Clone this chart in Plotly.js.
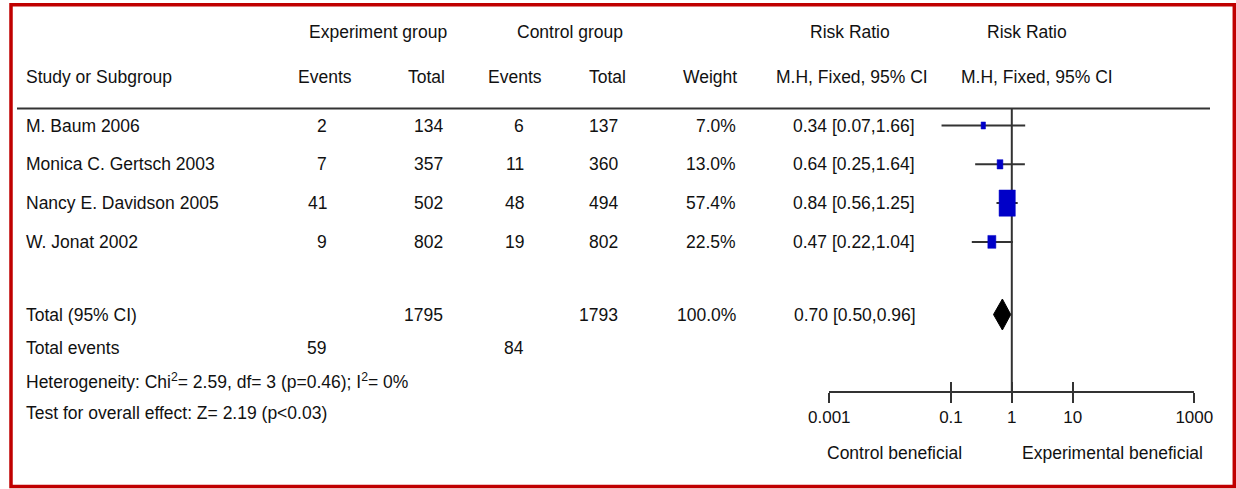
<!DOCTYPE html>
<html>
<head>
<meta charset="utf-8">
<script src="https://cdn.plot.ly/plotly-3.0.1.min.js"></script>
<style>html,body{margin:0;padding:0;background:#fff;}#chart{width:1236px;height:489px;}</style>
</head>
<body>
<div id="chart"></div>
<script>
// ---------- data ----------
const studies = ["M. Baum 2006", "Monica C. Gertsch 2003", "Nancy E. Davidson 2005", "W. Jonat 2002"];
const expEvents = [2, 7, 41, 9];
const expTotal = [134, 357, 502, 802];
const ctrlEvents = [6, 11, 48, 19];
const ctrlTotal = [137, 360, 494, 802];
const weights = [7.0, 13.0, 57.4, 22.5];
const rr = [0.34, 0.64, 0.84, 0.47];
const ciLow = [0.07, 0.25, 0.56, 0.22];
const ciHigh = [1.66, 1.64, 1.25, 1.04];

const totalLabel = "Total (95% CI)";
const totalExpN = 1795;
const totalCtrlN = 1793;
const totalWeight = 100.0;
const totalRR = 0.70;
const totalLow = 0.50;
const totalHigh = 0.96;
const totalEventsLabel = "Total events";
const totalExpEvents = 59;
const totalCtrlEvents = 84;
const heterogeneityText = "Heterogeneity: Chi<sup>2</sup>= 2.59, df= 3 (p=0.46); I<sup>2</sup>= 0%";
const overallEffectText = "Test for overall effect: Z= 2.19 (p<0.03)";

const tickVals = [0.001, 0.1, 1, 10, 1000];
const tickText = ["0.001", "0.1", "1", "10", "1000"];
const favoursLeft = "Control beneficial";
const favoursRight = "Experimental beneficial";

// ---------- layout helpers ----------
const W = 1236, H = 489;
const FONT = "Liberation Sans, Arial, Helvetica, sans-serif";
const FS = 17.5;
const TXT = "#111111";
const rowY0 = 125.5, rowStep = 38.8;
const rowY = studies.map((s, i) => rowY0 + i * rowStep);
const totalY = 314.5, eventsY = 347.5, hetY = 380.5, testY = 413;
const head1Y = 31.7, head2Y = 76.7;
const axisY = 392, topLineY = 108.5;
const axisLeftPx = 829.3, axisRightPx = 1194.3, logRange = [-3, 3];
const pxPerDecade = (axisRightPx - axisLeftPx) / (logRange[1] - logRange[0]);

const px = v => v / W;
const fmt1 = v => v.toFixed(1) + "%";
const fmt2 = v => v.toFixed(2);
const ciText = (m, l, h) => fmt2(m) + " [" + fmt2(l) + "," + fmt2(h) + "]";

const annotations = [];
function txt(text, x, y, anchor) {
  annotations.push({
    text: String(text), xref: "paper", yref: "y", x: px(x), y: y,
    xanchor: anchor || "left", yanchor: "middle", showarrow: false,
    font: {family: FONT, size: FS, color: TXT}, borderpad: 0
  });
}

// headers
txt("Experiment group", 377.5, head1Y, "center");
txt("Control group", 570, head1Y, "center");
txt("Risk Ratio", 850, head1Y, "center");
txt("Risk Ratio", 1027, head1Y, "center");
txt("Study or Subgroup", 25, head2Y, "left");
txt("Events", 325, head2Y, "center");
txt("Total", 446, head2Y, "right");
txt("Events", 515, head2Y, "center");
txt("Total", 627, head2Y, "right");
txt("Weight", 738, head2Y, "right");
txt("M.H, Fixed, 95% CI", 852, head2Y, "center");
txt("M.H, Fixed, 95% CI", 1036.5, head2Y, "center");

// study rows
studies.forEach((s, i) => {
  const y = rowY[i];
  txt(s, 25, y, "left");
  txt(expEvents[i], 328, y, "right");
  txt(expTotal[i], 444, y, "right");
  txt(ctrlEvents[i], 525, y, "right");
  txt(ctrlTotal[i], 619, y, "right");
  txt(fmt1(weights[i]), 737, y, "right");
  txt(ciText(rr[i], ciLow[i], ciHigh[i]), 853.5, y, "center");
});

// totals
txt(totalLabel, 25, totalY, "left");
txt(totalExpN, 444, totalY, "right");
txt(totalCtrlN, 619, totalY, "right");
txt(fmt1(totalWeight), 737, totalY, "right");
txt(ciText(totalRR, totalLow, totalHigh), 855, totalY, "center");
txt(totalEventsLabel, 25, eventsY, "left");
txt(totalExpEvents, 327, eventsY, "right");
txt(totalCtrlEvents, 525, eventsY, "right");
txt(heterogeneityText, 25, hetY, "left");
txt(overallEffectText, 25, testY, "left");
txt(favoursLeft, 894, 453, "center");
txt(favoursRight, 1112, 453, "center");

// ---------- traces ----------
const ciX = [], ciY = [];
rr.forEach((v, i) => { ciX.push(ciLow[i], ciHigh[i], null); ciY.push(rowY[i], rowY[i], null); });

const dH = 15.5;
const traces = [
  {x: ciX, y: ciY, type: "scatter", mode: "lines", line: {color: "#333333", width: 2},
   hoverinfo: "skip", showlegend: false, xaxis: "x", yaxis: "y"},
  {x: [totalLow, totalRR, totalHigh, totalRR, totalLow],
   y: [totalY, totalY - dH, totalY, totalY + dH, totalY],
   type: "scatter", mode: "lines", fill: "toself", fillcolor: "#000000",
   line: {color: "#000000", width: 1}, hoverinfo: "skip", showlegend: false, xaxis: "x", yaxis: "y"},
  {x: [1], y: [axisY], type: "scatter", mode: "markers", marker: {opacity: 0},
   hoverinfo: "skip", showlegend: false, xaxis: "x2", yaxis: "y"}
];

// weighted boxes: drawn as filled polygons around each point estimate
weights.forEach((w, i) => {
  const h = 4.4 + 0.38 * w;          // box height in px
  const wd = 0.62 * h;               // box width in px
  const f = Math.pow(10, (wd / 2) / pxPerDecade);
  const xl = rr[i] / f, xr = rr[i] * f;
  const yt = rowY[i] - h / 2, yb = rowY[i] + h / 2;
  traces.push({x: [xl, xr, xr, xl, xl], y: [yt, yt, yb, yb, yt],
    type: "scatter", mode: "lines", fill: "toself", fillcolor: "#0000c8",
    line: {color: "#0000c8", width: 0.5}, hoverinfo: "skip", showlegend: false,
    xaxis: "x", yaxis: "y"});
});

// ---------- shapes ----------
const shapes = [
  {type: "rect", xref: "paper", yref: "paper", x0: px(11), x1: px(1234.3), y0: 1 - 486.5 / H, y1: 1 - 4.7 / H,
   line: {color: "#c00000", width: 3.5}, fillcolor: "rgba(0,0,0,0)", layer: "above"},
  {type: "line", xref: "paper", yref: "y", x0: px(17), x1: px(1210), y0: topLineY, y1: topLineY,
   line: {color: "#333333", width: 2}, layer: "below"},
  {type: "line", xref: "x", yref: "y", x0: 1, x1: 1, y0: topLineY, y1: axisY,
   line: {color: "#333333", width: 2}, layer: "below"}
];

const xDomain = [px(axisLeftPx), px(axisRightPx)];
const axisPos = 1 - axisY / H;
const layout = {
  width: W, height: H,
  margin: {l: 0, r: 0, t: 0, b: 0, pad: 0},
  paper_bgcolor: "#ffffff", plot_bgcolor: "rgba(0,0,0,0)",
  showlegend: false,
  font: {family: FONT, size: FS, color: TXT},
  xaxis: {type: "log", range: logRange, domain: xDomain, anchor: "free", position: axisPos,
    showgrid: false, zeroline: false, showline: true, linecolor: "#333333", linewidth: 2,
    ticks: "outside", ticklen: 10, tickwidth: 2, tickcolor: "#333333",
    tickmode: "array", tickvals: tickVals, ticktext: tickText,
    tickfont: {family: FONT, size: 17, color: TXT}, fixedrange: true},
  xaxis2: {type: "log", range: logRange, domain: xDomain, anchor: "free", position: axisPos,
    overlaying: "x", showgrid: false, zeroline: false, showline: false,
    ticks: "inside", ticklen: 10, tickwidth: 2, tickcolor: "#333333",
    tickmode: "array", tickvals: tickVals, showticklabels: false, fixedrange: true},
  yaxis: {range: [H, 0], domain: [0, 1], visible: false, fixedrange: true},
  annotations: annotations,
  shapes: shapes
};

Plotly.newPlot("chart", traces, layout, {staticPlot: true, displayModeBar: false});
</script>
</body>
</html>
